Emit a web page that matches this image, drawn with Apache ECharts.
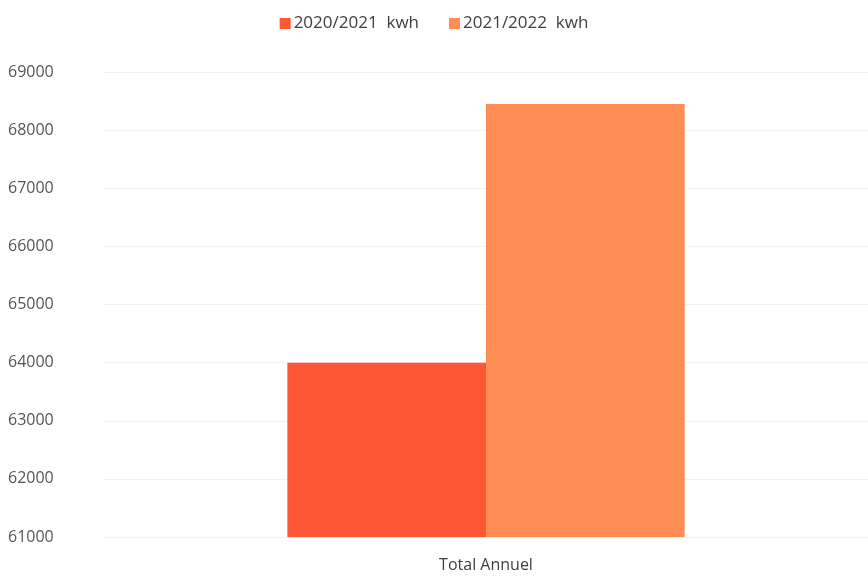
<!DOCTYPE html>
<html>
<head>
<meta charset="utf-8">
<script src="https://cdn.jsdelivr.net/npm/echarts@6/dist/echarts.min.js"></script>
<style>
  html, body { margin: 0; padding: 0; background: #fff; }
  #chart { width: 868px; height: 579px; }
</style>
</head>
<body>
<div id="chart"></div>
<script>
// données
const categories = ['Total Annuel'];
const seriesNames = ['2020/2021  kwh', '2021/2022  kwh'];
const values2021 = [64000];
const values2022 = [68450];
const yTicks = [61000, 62000, 63000, 64000, 65000, 66000, 67000, 68000, 69000];

const colors = ['#fe5733', '#ff8c52'];

const chart = echarts.init(document.getElementById('chart'));

const option = {
  animation: false,
  color: colors,
  textStyle: { fontFamily: 'Open Sans, Liberation Sans, sans-serif' },
  legend: {
    top: 10,
    left: 'center',
    itemWidth: 11,
    itemHeight: 11,
    itemGap: 30,
    icon: 'rect',
    textStyle: { fontSize: 17, color: '#404040', padding: [0, 0, 0, -2] },
    data: seriesNames
  },
  grid: {
    left: 104,
    right: 0,
    top: 72,
    bottom: 42,
    containLabel: false
  },
  xAxis: {
    type: 'category',
    data: categories,
    axisLine: { show: false },
    axisTick: { show: false },
    axisLabel: { fontSize: 16, color: '#404040', margin: 20 }
  },
  yAxis: {
    type: 'value',
    min: yTicks[0],
    max: yTicks[yTicks.length - 1],
    interval: 1000,
    axisLine: { show: false },
    axisTick: { show: false },
    axisLabel: {
      fontSize: 16,
      color: '#555',
      align: 'left',
      margin: 96,
      formatter: (v) => String(v)
    },
    splitLine: { lineStyle: { color: '#f2f2f2', width: 1 } }
  },
  series: [
    {
      name: seriesNames[0],
      type: 'bar',
      data: values2021,
      barGap: '0%',
      barCategoryGap: '48%'
    },
    {
      name: seriesNames[1],
      type: 'bar',
      data: values2022
    }
  ]
};

chart.setOption(option);
</script>
</body>
</html>
